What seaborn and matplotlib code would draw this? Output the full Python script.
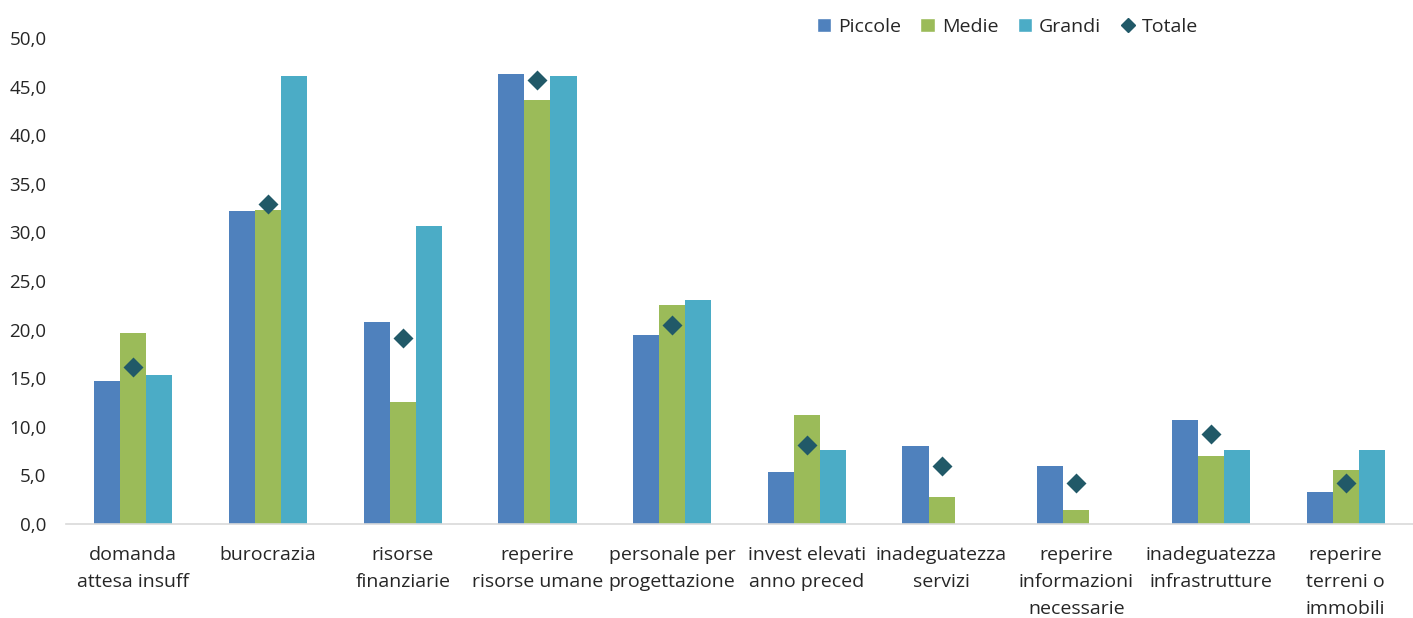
import matplotlib
matplotlib.use("Agg")
import matplotlib.pyplot as plt
from matplotlib.lines import Line2D
from matplotlib.patches import Patch
import seaborn as sns
import pandas as pd

categories = [
    "domanda\nattesa insuff",
    "burocrazia",
    "risorse\nfinanziarie",
    "reperire\nrisorse umane",
    "personale per\nprogettazione",
    "invest elevati\nanno preced",
    "inadeguatezza\nservizi",
    "reperire\ninformazioni\nnecessarie",
    "inadeguatezza\ninfrastrutture",
    "reperire\nterreni o\nimmobili",
]
piccole = [14.7, 32.2, 20.8, 46.3, 19.4, 5.4, 8.0, 6.0, 10.7, 3.3]
medie = [19.7, 32.3, 12.6, 43.6, 22.5, 11.2, 2.8, 1.4, 7.0, 5.6]
grandi = [15.3, 46.1, 30.7, 46.1, 23.0, 7.6, 0.0, 0.0, 7.6, 7.6]
totale = [16.2, 32.9, 19.1, 45.7, 20.5, 8.1, 6.0, 4.2, 9.3, 4.2]
series_names = ["Piccole", "Medie", "Grandi"]
y_ticks = [0, 5, 10, 15, 20, 25, 30, 35, 40, 45, 50]

colors = {"Piccole": "#4F81BD", "Medie": "#9BBB59", "Grandi": "#4BACC6"}
total_color = "#215968"
text_color = "#262626"

sns.set_theme(style="white")
plt.rcParams["font.family"] = ["Open Sans", "DejaVu Sans"]

bars = pd.DataFrame({
    "categoria": categories * 3,
    "gruppo": [n for n in series_names for _ in categories],
    "valore": piccole + medie + grandi,
})
tot = pd.DataFrame({"categoria": categories, "valore": totale})

fig = plt.figure(figsize=(14.13, 6.18), dpi=100)
ax = fig.add_axes([0.0467, 0.152, 0.9533, 0.7865])

sns.barplot(data=bars, x="categoria", y="valore", hue="gruppo",
            order=categories, hue_order=series_names, palette=colors,
            width=0.58, gap=0, saturation=1, errorbar=None, ax=ax,
            legend=False, linewidth=0)
sns.pointplot(data=tot, x="categoria", y="valore", order=categories,
              linestyle="none", markers="D", color=total_color,
              markersize=8, errorbar=None, ax=ax)

ax.set_ylim(0, 50)
ax.set_xlim(-0.5, len(categories) - 0.5)
ax.set_yticks(y_ticks)
ax.set_yticklabels([f"{v:.1f}".replace(".", ",") for v in y_ticks])
ax.set_xlabel("")
ax.set_ylabel("")
for side in ["top", "right", "left"]:
    ax.spines[side].set_visible(False)
ax.spines["bottom"].set_color("#D9D9D9")
ax.spines["bottom"].set_linewidth(1.2)
ax.tick_params(axis="y", length=0, labelsize=13.5, colors=text_color, pad=14)
ax.tick_params(axis="x", length=0, labelsize=14, colors=text_color, pad=16)
for lab in ax.get_xticklabels():
    lab.set_linespacing(1.65)

handles = [Patch(facecolor=colors[n], label=n) for n in series_names]
handles.append(Line2D([], [], marker="D", linestyle="none",
                      color=total_color, markersize=7, label="Totale"))
fig.legend(handles=handles, loc="center", bbox_to_anchor=(0.713, 0.957),
           ncol=4, frameon=False, fontsize=14, handlelength=0.75,
           handleheight=0.75, handletextpad=0.35, columnspacing=1.0,
           labelcolor=text_color)

fig.savefig("out.png", dpi=100)
